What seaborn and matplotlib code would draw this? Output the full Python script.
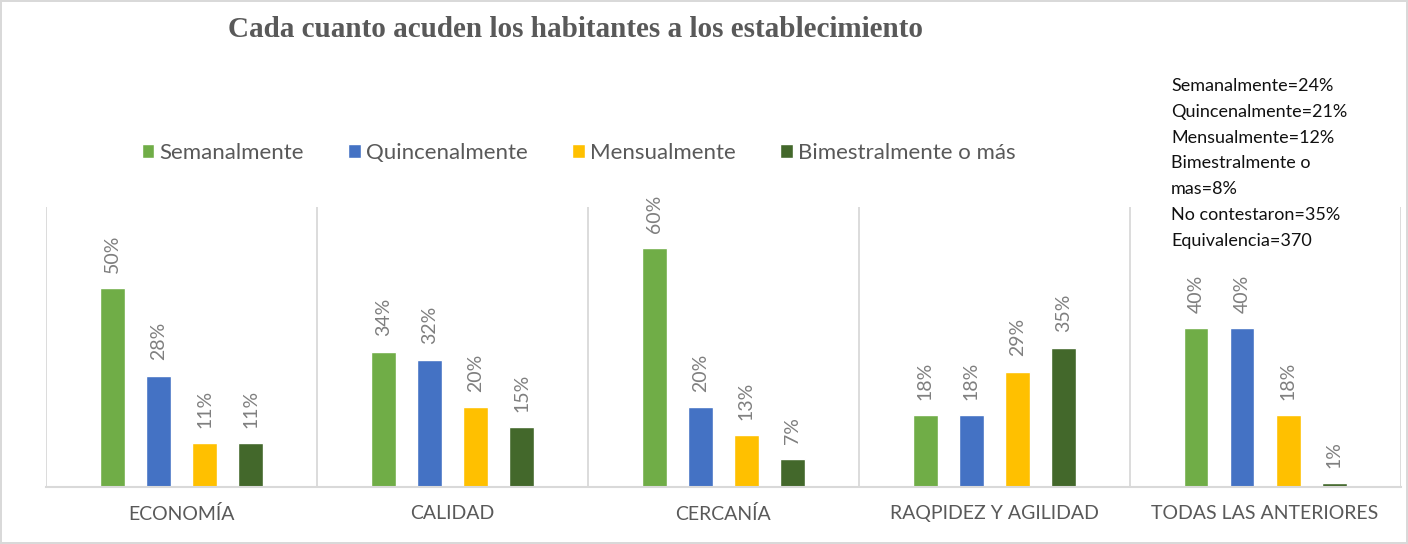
import pandas as pd
import numpy as np
import seaborn as sns
import matplotlib.pyplot as plt

sns.set_style("white")
plt.rcParams['font.family'] = ['Lato', 'DejaVu Sans']

categorias = ['ECONOMÍA', 'CALIDAD', 'CERCANÍA', 'RAQPIDEZ Y AGILIDAD', 'TODAS LAS ANTERIORES']
frecuencias = ['Semanalmente', 'Quincenalmente', 'Mensualmente', 'Bimestralmente o más']
semanal = [50, 34, 60, 18, 40]
quincenal = [28, 32, 20, 18, 40]
mensual = [11, 20, 13, 29, 18]
bimestral = [11, 15, 7, 35, 1]
colores = ['#70AD47', '#4472C4', '#FFC000', '#43682B']

nota = ("Semanalmente=24%\nQuincenalmente=21%\nMensualmente=12%\n"
        "Bimestralmente o\nmas=8%\nNo contestaron=35%\nEquivalencia=370")

df = pd.DataFrame({
    'categoria': categorias * 4,
    'frecuencia': np.repeat(frecuencias, len(categorias)),
    'valor': semanal + quincenal + mensual + bimestral,
})

fig = plt.figure(figsize=(14.08, 5.44), dpi=100)
fig.patch.set_edgecolor('#d9d9d9')
fig.patch.set_linewidth(1.5)
ax = fig.add_axes([0.0327, 0.1048, 0.962, 0.5142])

sns.barplot(data=df, x='categoria', y='valor', hue='frecuencia',
            order=categorias, hue_order=frecuencias, palette=colores,
            saturation=1, width=0.68, gap=0.46, ax=ax, legend=True)

for cont in ax.containers:
    ax.bar_label(cont, labels=[f'{int(v)}%' for v in cont.datavalues],
                 rotation=90, padding=11, color='#7F7F7F', fontsize=14)

ax.set_ylim(0, 70.3)
ax.set_xlim(-0.5, len(categorias) - 0.5)
ax.set_yticks([])
ax.set_xlabel('')
ax.set_ylabel('')
for s in ['top', 'right', 'left']:
    ax.spines[s].set_visible(False)
ax.spines['bottom'].set_color('#d9d9d9')
ax.spines['bottom'].set_linewidth(1.5)
for i in range(len(categorias) + 1):
    ax.axvline(i - 0.5, color='#d9d9d9', lw=1.3, zorder=0)
ax.tick_params(axis='x', length=0, pad=13, labelsize=14, labelcolor='#595959')

ax.legend(loc='center', bbox_to_anchor=(0.411, 0.719), bbox_transform=fig.transFigure,
          ncol=4, frameon=False, fontsize=16, handlelength=0.55, handleheight=0.55,
          handletextpad=0.25, columnspacing=2.0, labelcolor='#595959')

fig.text(0.409, 0.945, 'Cada cuanto acuden los habitantes a los establecimiento',
         ha='center', va='center', fontsize=21, fontweight='bold',
         family='Liberation Serif', color='#595959')
fig.text(0.8317, 0.857, nota, ha='left', va='top', fontsize=13,
         linespacing=1.76, color='#111111')

fig.savefig('out.png', dpi=100)
